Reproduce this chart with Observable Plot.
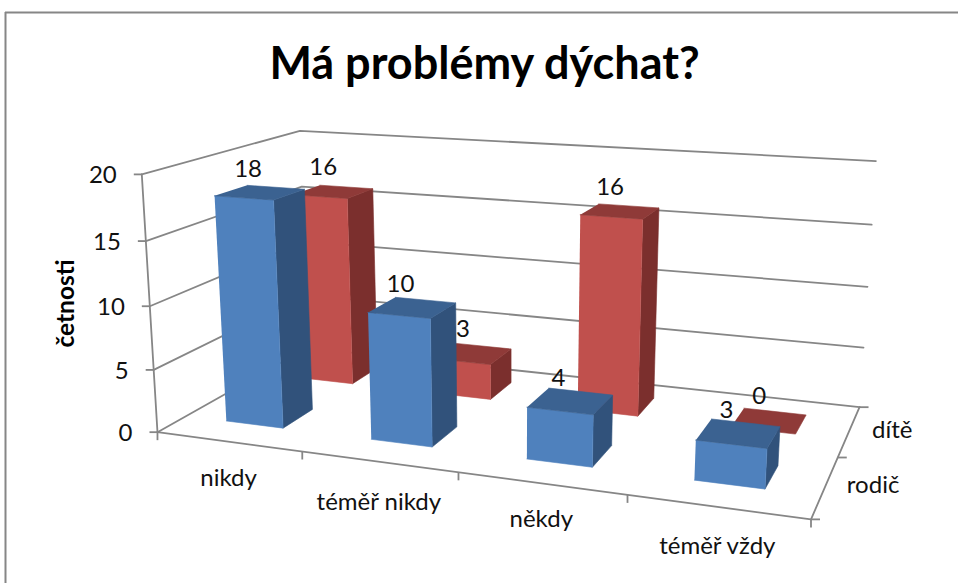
<!DOCTYPE html>
<html><head><meta charset="utf-8">
<script src="https://cdn.jsdelivr.net/npm/d3@7"></script>
<script src="https://cdn.jsdelivr.net/npm/@observablehq/plot@0.6"></script>
<style>html,body{margin:0;padding:0;background:#fff;overflow:hidden}svg{display:block}</style>
</head><body><div id="chart"></div>
<script>
const title = "Má problémy dýchat?";
const categories = ["nikdy", "téměř nikdy", "někdy", "téměř vždy"];
const seriesNames = ["rodič", "dítě"];
const rodic = [18, 10, 4, 3];
const dite = [16, 3, 16, 0];
const valueTicks = [0, 5, 10, 15, 20];
const valueTitle = "četnosti";
const palette = {
  "rodič": {front: "#4f81bd", side: "#31527b", top: "#3b6291"},
  "dítě": {front: "#c0504d", side: "#7b2f2d", top: "#8f3a38"}
};

// Calibration of the 3D perspective: (u along categories, v into depth, h up) -> page position
const wallAnchors = [
  [0,0,0,158,431],[1,0,0,810,516],[1,1,0,860,405],[0,1,0,306,346],
  [0,0,1,142,173],[0,1,1,300,131],[1,1,1,875,160],
  [0,0,.5,147,304],[1,1,.5,868,286],[0,1,.75,301,188],
  [.25,0,0,303,453],[.75,0,0,628,497],[1,.5,0,835,460]
];
const barAnchors = [
  [.075,.15,0,226,421],[.175,.15,0,282,427],[.175,.35,0,312,408],[.075,.15,.9,215,196],[.175,.15,.9,274,199],[.175,.35,.9,304,186],[.075,.35,.9,245,186],
  [.325,.15,0,371,439],[.425,.15,0,432,446],[.425,.35,0,456,428],[.325,.15,.5,368,312],[.425,.15,.5,430,318],[.425,.35,.5,454,303],[.325,.35,.5,392,298],
  [.575,.15,0,526,459],[.675,.15,0,592,466],[.675,.35,0,611,443],[.575,.15,.2,527,407],[.675,.15,.2,593,414],[.675,.35,.2,612,396],[.575,.35,.2,549,388],
  [.825,.15,0,694,479],[.925,.15,0,765,488],[.925,.35,0,777,468],[.825,.15,.15,696,440],[.925,.15,.15,766,448],[.925,.35,.15,778,427],[.825,.35,.15,712,418],
  [.175,.65,0,353,383],[.175,.85,0,375,368],[.175,.65,.8,348,198],[.175,.85,.8,373,189],
  [.425,.65,.15,491,363],[.425,.85,.15,511,349],[.425,.65,0,490,398],[.425,.85,0,511,383],
  [.575,.65,.8,580,214],[.675,.65,.8,643,218],[.675,.85,.8,658,208],[.575,.85,.8,597,203],[.675,.65,0,637,415],[.675,.85,0,653,397],
  [.925,.65,0,795,433],[.925,.85,0,805,414],[.825,.85,0,745,408]
];
function fit(rows) {
  const A = [], b = [];
  for (const [u,v,h,x,y] of rows) {
    A.push([u,v,h,1,0,0,0,0,-x*u,-x*v,-x*h]); b.push(x);
    A.push([0,0,0,0,u,v,h,1,-y*u,-y*v,-y*h]); b.push(y);
  }
  const n = 11;
  const M = d3.range(n).map(i => [...d3.range(n).map(j => d3.sum(A, r => r[i]*r[j])), d3.sum(A, (r,k) => r[i]*b[k])]);
  for (let i = 0; i < n; i++) {
    let p = i; for (let r = i+1; r < n; r++) if (Math.abs(M[r][i]) > Math.abs(M[p][i])) p = r;
    [M[i], M[p]] = [M[p], M[i]];
    for (let r = 0; r < n; r++) if (r !== i) { const f = M[r][i]/M[i][i]; for (let c = i; c <= n; c++) M[r][c] -= f*M[i][c]; }
  }
  return M.map((r,i) => r[n]/r[i]);
}
const projector = P => (u, v, h) => {
  const w = P[8]*u + P[9]*v + P[10]*h + 1;
  return {x: (P[0]*u+P[1]*v+P[2]*h+P[3])/w, y: (P[4]*u+P[5]*v+P[6]*h+P[7])/w};
};
const project = projector(fit(wallAnchors));
const projectBar = projector(fit(barAnchors));
const U = i => i / categories.length;
const V = s => s / seriesNames.length;
const H = d3.scaleLinear([0, 20], [0, 1]);
const barLo = 0.3, barHi = 0.7;

function facesFor(name, s, values) {
  const out = [];
  values.forEach((val, i) => {
    const u0 = U(i+barLo), u1 = U(i+barHi), v0 = V(s+barLo), v1 = V(s+barHi), h = H(val);
    const faces = val > 0
      ? [["side", [[u1,v0,0],[u1,v1,0],[u1,v1,h],[u1,v0,h]]],
         ["front", [[u0,v0,0],[u1,v0,0],[u1,v0,h],[u0,v0,h]]],
         ["top", [[u0,v0,h],[u1,v0,h],[u1,v1,h],[u0,v1,h]]]]
      : [["top", [[u0,v0,h],[u1,v0,h],[u1,v1,h],[u0,v1,h]]]];
    for (const [kind, pts] of faces) for (const p of pts)
      out.push({...projectBar(...p), id: `${name}-${i}-${kind}`, color: palette[name][kind]});
  });
  return out;
}
const labelsFor = (s, values) => values.map((val, i) => ({
  ...projectBar(U(i+.5), V(s+.5), H(val)), label: String(val)
}));

const axisColor = "#868686";
const gridPath = valueTicks.flatMap(t => [[0,0],[0,1],[1,1]].map(([u,v]) => ({...project(u,v,H(t)), t})));
const floorEdge = [[0,0,0],[1,0,0],[1,1,0]].map(p => project(...p));
const valueAxis = [[0,0,0],[0,0,1]].map(p => project(...p));
const valuePts = valueTicks.map(t => ({...project(0,0,H(t)), t}));
const catTicks = d3.range(0, categories.length+1).map(i => project(U(i),0,0));
const depthTicks = d3.range(0, seriesNames.length+1).map(s => project(1,V(s),0));
const catNudge = [-2, 2, -3, 0];
const catLabels = categories.map((c,i) => ({...project(U(i+.5),0,0), c, n: catNudge[i]}));
const seriesNudge = [48, 43];

const fontFamily = "Lato, 'Open Sans', sans-serif";
const tick = {stroke: axisColor, strokeWidth: 1.8};
const txt = {fontSize: 24, fill: "#111"};

const plot = Plot.plot({
  width: 958, height: 583, margin: 0,
  style: {fontFamily, background: "#fff"},
  x: {domain: [0, 958], range: [0, 958], axis: null},
  y: {domain: [0, 583], range: [0, 583], axis: null},
  color: {type: "identity"},
  marks: [
    Plot.ruleX([5], {y1: 12, y2: 583, stroke: axisColor, strokeWidth: 2}),
    Plot.ruleY([12], {x1: 5, x2: 958, stroke: axisColor, strokeWidth: 2}),
    Plot.text([title], {x: 484, y: 64, text: d => d, fontSize: 45, fontWeight: 700, fill: "#000"}),
    Plot.line(gridPath, {x: "x", y: "y", z: "t", ...tick}),
    Plot.line(floorEdge, {x: "x", y: "y", ...tick}),
    Plot.line(valueAxis, {x: "x", y: "y", ...tick}),
    Plot.link(valuePts, {x1: "x", y1: "y", x2: d => d.x - 8, y2: "y", ...tick}),
    Plot.link(catTicks, {x1: "x", y1: "y", x2: "x", y2: d => d.y + 8, ...tick}),
    Plot.link(depthTicks, {x1: "x", y1: "y", x2: d => d.x + 9, y2: "y", ...tick}),
    Plot.text(valuePts, {x: "x", y: "y", dx: -25, dy: 1, text: "t", textAnchor: "end", ...txt}),
    Plot.text(catLabels, {x: "x", y: d => d.y + 39 + d.n, text: "c", ...txt}),
    Plot.text(seriesNames.map((name,s) => ({...project(1,V(s+.5),0), name, n: seriesNudge[s]})), {x: d => d.x + d.n, y: "y", text: "name", dy: -1, ...txt}),
    Plot.text([valueTitle], {x: 66, y: 303, text: d => d, rotate: -90, fontSize: 24.5, fontWeight: 700, fill: "#000"}),
    Plot.line(facesFor("dítě", 1, dite), {x: "x", y: "y", z: "id", fill: "color", stroke: "color", strokeWidth: 0.6}),
    Plot.text(labelsFor(1, dite), {x: "x", y: "y", text: "label", dx: -10, dy: -24, ...txt}),
    Plot.line(facesFor("rodič", 0, rodic), {x: "x", y: "y", z: "id", fill: "color", stroke: "color", strokeWidth: 0.6}),
    Plot.text(labelsFor(0, rodic), {x: "x", y: "y", text: "label", dx: -12, dy: -23, ...txt})
  ]
});
document.getElementById("chart").append(plot);
</script></body></html>
